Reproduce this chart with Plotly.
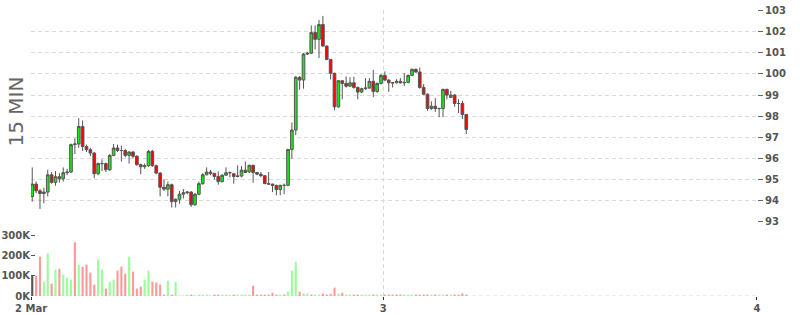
import plotly.graph_objects as go

# ---- data (15-minute candles) ----
opens = [94.19, 94.78, 94.46, 94.33, 94.40, 95.22, 94.86, 95.13, 95.03, 95.32,
         95.35, 96.65, 96.68, 97.51, 96.56, 96.41, 96.25, 95.27, 95.75, 95.75,
         95.46, 96.14, 96.49, 96.37, 96.37, 96.14, 96.30, 96.10,
         95.70, 95.60, 95.65, 96.33, 95.65, 95.30, 94.63, 94.54, 94.75, 93.95,
         94.06, 94.30, 94.37, 94.40, 93.80, 94.30, 94.80, 95.22, 95.35, 95.29,
         95.14, 94.90, 95.20, 95.32, 95.27, 95.14, 95.16, 95.44,
         95.36, 95.67, 95.33, 95.25, 95.18, 94.80, 94.78, 94.72, 94.52, 94.72,
         94.72, 96.42, 97.34, 99.84, 99.71, 100.94, 100.98, 101.96, 101.64, 102.34,
         101.32, 100.69, 100.03, 98.44, 99.68, 99.55, 99.42, 99.58, 99.36,
         99.14, 99.30, 99.33, 99.65, 99.17, 99.55, 99.93, 99.71, 99.58, 99.58,
         99.65, 99.58, 99.60, 99.93, 100.22, 100.09, 99.36, 99.04, 98.36, 98.47,
         98.36, 98.36, 99.27, 98.89, 99.00, 98.60, 98.60, 98.08]
closes = [94.78, 94.46, 94.33, 94.40, 95.22, 94.86, 95.13, 95.03, 95.32, 95.35,
          96.65, 96.68, 97.51, 96.56, 96.41, 96.25, 95.27, 95.75, 95.75, 95.46,
          96.14, 96.49, 96.37, 96.37, 96.14, 96.30, 96.10, 95.70,
          95.60, 95.65, 96.33, 95.65, 95.30, 94.63, 94.54, 94.75, 93.95, 94.06,
          94.30, 94.37, 94.40, 93.80, 94.30, 94.80, 95.22, 95.35, 95.29, 95.14,
          94.90, 95.20, 95.32, 95.32, 95.14, 95.16, 95.44, 95.33,
          95.67, 95.33, 95.25, 95.18, 94.80, 94.78, 94.72, 94.52, 94.72, 94.72,
          96.42, 97.34, 99.84, 99.71, 100.94, 100.98, 101.96, 101.64, 102.34, 101.32,
          100.69, 100.03, 98.44, 99.68, 99.55, 99.42, 99.58, 99.36, 99.14,
          99.30, 99.33, 99.65, 99.17, 99.55, 99.93, 99.71, 99.58, 99.58, 99.65,
          99.58, 99.60, 99.93, 100.22, 100.09, 99.36, 99.04, 98.36, 98.47, 98.36,
          98.36, 99.27, 99.00, 99.00, 98.60, 98.60, 98.08, 97.37]
highs = [95.57, 94.90, 94.55, 94.60, 95.46, 95.35, 95.40, 95.30, 95.57, 95.50,
         96.70, 96.95, 97.90, 97.80, 96.65, 96.50, 96.30, 95.80, 95.95, 95.80,
         96.20, 96.68, 96.65, 96.60, 96.45, 96.35, 96.35, 96.15,
         95.75, 95.75, 96.40, 96.40, 95.70, 95.35, 95.00, 94.90, 94.80, 94.10,
         94.45, 94.55, 94.45, 94.45, 94.35, 94.90, 95.30, 95.57, 95.45, 95.30,
         95.38, 95.25, 95.57, 95.38, 95.30, 95.67, 95.63, 95.85,
         95.70, 95.70, 95.35, 95.35, 95.20, 95.35, 94.80, 94.75, 94.75, 94.80,
         96.45, 97.70, 99.90, 99.90, 101.00, 101.05, 102.30, 102.30, 102.56, 102.75,
         101.35, 100.70, 100.06, 99.70, 99.70, 99.88, 99.84, 99.87, 99.40,
         99.35, 99.80, 99.80, 100.19, 99.60, 100.00, 100.12, 99.75, 99.62, 99.75,
         99.80, 100.03, 99.97, 100.25, 100.25, 100.30, 99.52, 99.08, 98.70, 98.85,
         98.40, 99.30, 99.30, 99.20, 99.05, 98.80, 98.73, 98.10]
lows = [93.95, 94.35, 93.60, 93.87, 94.19, 94.80, 94.70, 94.85, 94.90, 95.20,
        95.30, 96.20, 96.50, 96.35, 96.30, 96.10, 95.06, 95.20, 95.40, 95.35,
        95.40, 96.10, 96.30, 95.85, 96.05, 95.75, 96.00, 95.65,
        95.25, 95.50, 95.60, 95.60, 95.25, 94.20, 94.45, 94.20, 93.67, 93.67,
        93.85, 94.10, 94.30, 93.70, 93.75, 94.25, 94.75, 95.20, 95.20, 95.00,
        94.75, 94.85, 95.18, 95.10, 94.80, 95.10, 95.10, 95.30,
        95.30, 94.84, 95.20, 95.10, 94.78, 94.75, 94.40, 94.25, 94.25, 94.30,
        94.68, 95.98, 97.10, 99.25, 99.30, 100.90, 100.95, 101.16, 100.75, 101.30,
        100.65, 99.74, 98.28, 98.40, 98.80, 99.35, 99.38, 99.30, 98.80,
        99.10, 99.25, 99.30, 98.90, 99.10, 99.50, 99.65, 99.15, 99.36, 99.55,
        99.55, 99.42, 99.55, 99.90, 100.05, 99.30, 99.00, 98.25, 98.30, 98.20,
        97.95, 97.95, 98.80, 98.85, 98.45, 98.15, 97.87, 97.15]
volumes_k = [100, 100, 193, 70, 210, 61, 130, 134, 105, 90,
             80, 264, 154, 144, 154, 115, 56, 179, 130, 36,
             70, 80, 125, 144, 110, 193, 120, 36, 46, 80,
             125, 70, 66, 56, 4, 75, 3, 70, 1, 1,
             5, 6, 1, 2, 6, 5, 1, 3, 5, 3,
             3, 1, 6, 6, 3, 3, 2, 51, 2, 2,
             7, 7, 16, 2, 7, 7, 21, 125, 169, 21,
             12, 12, 7, 7, 6, 12, 7, 11, 41, 12,
             16, 3, 7, 3, 6, 2, 2, 2, 2, 2,
             2, 2, 2, 2, 3, 2, 2, 2, 2, 3,
             2, 2, 7, 2, 7, 2, 2, 2, 2, 7,
             2, 13, 3]
volume_dir = list("NRRGGRGRGGGRGRRRRGGRGGRRRGRRRGGRRRRGRGGRGRGGGGRRRGGRRGGGGRRRRRRRGRGGGRGGRGGRRRRGRGGRRGGGRGGRRRRRGGGRRRRGRGGRGRRRR")
tick_labels = ["2 Mar", "3", "4"]
tick_positions = [-0.31, 90.58, 187.0]

n = len(opens)
idx = list(range(n))
vol_colors_map = {"N": "#555555", "R": "#ff9999", "G": "#99ff99"}
vol_colors = [vol_colors_map[c] for c in volume_dir[:n]]
volumes = [v * 1000 for v in volumes_k[:n]]

fig = go.Figure()
fig.add_trace(go.Candlestick(
    x=idx, open=opens, high=highs, low=lows, close=closes,
    increasing=dict(line=dict(color="#555555", width=1), fillcolor="#11ee11"),
    decreasing=dict(line=dict(color="#555555", width=1), fillcolor="#ff0000"),
    whiskerwidth=0, xaxis="x", yaxis="y", showlegend=False, hoverinfo="skip",
))
fig.add_trace(go.Bar(
    x=idx, y=volumes, marker=dict(color=vol_colors, line=dict(width=0)),
    width=0.55, xaxis="x", yaxis="y2", showlegend=False, hoverinfo="skip",
))

grid = "#d9d9d9"
tickfont = dict(family="DejaVu Sans", size=10, color="#555555", weight="bold")
fig.update_layout(
    width=800, height=315,
    margin=dict(l=31, r=43, t=10, b=19),
    paper_bgcolor="white", plot_bgcolor="white",
    boxgap=0.02,
    xaxis=dict(
        range=[-0.32, 187.02], anchor="y2", automargin=False,
        tickvals=tick_positions, ticktext=tick_labels,
        showgrid=True, gridcolor=grid, griddash="4px,3px", gridwidth=1,
        zeroline=False, showline=False,
        ticks="outside", ticklen=3, tickcolor="#333333",
        tickfont=tickfont, rangeslider=dict(visible=False),
    ),
    yaxis=dict(
        domain=[0.26, 1], range=[93, 103.03], side="right", anchor="x",
        automargin=False,
        tickvals=list(range(93, 104)),
        showgrid=True, gridcolor=grid, griddash="4px,3px", gridwidth=1,
        zeroline=False, showline=False,
        ticks="outside", ticklen=5, tickcolor="#666666",
        tickfont=tickfont,
    ),
    yaxis2=dict(
        domain=[0, 0.26], range=[0, 366000], side="left", anchor="x",
        automargin=False,
        tickvals=[0, 100000, 200000, 300000], ticktext=["0K", "100K", "200K", "300K"],
        showgrid=False, zeroline=False, showline=False,
        ticks="inside", ticklen=4, tickcolor="#555555",
        tickfont=tickfont,
    ),
    shapes=[dict(type="line", xref="paper", yref="y2", x0=0, x1=1, y0=0, y1=0,
                 line=dict(color=grid, width=1, dash="4px,3px"), layer="below")],
    annotations=[dict(text="15 MIN", xref="paper", yref="paper",
                      x=(15.5 - 31) / 726, y=(296 - 112) / 286,
                      xanchor="center", yanchor="middle", textangle=-90,
                      showarrow=False,
                      font=dict(family="DejaVu Sans", size=20, color="#666666"))],
)

fig.write_html("out.html")
